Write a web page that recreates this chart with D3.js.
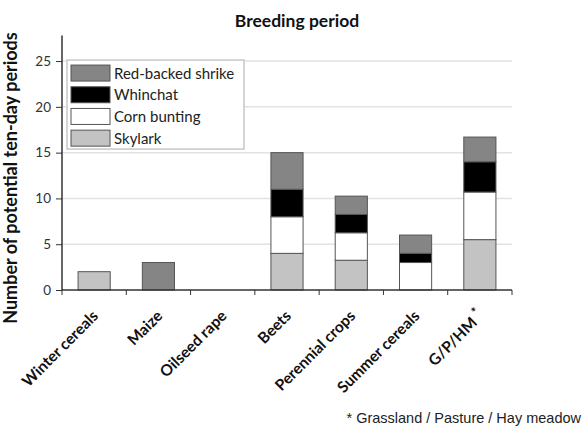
<!DOCTYPE html>
<html>
<head>
<meta charset="utf-8">
<script src="https://cdn.jsdelivr.net/npm/d3@7"></script>
<style>
  body { margin: 0; background: #fff; }
  text { font-family: Lato, "Open Sans", sans-serif; }
</style>
</head>
<body>
<svg id="chart" width="583" height="427"></svg>
<script>
// values (ten-day periods)
const categories = ['Winter cereals', 'Maize', 'Oilseed rape', 'Beets', 'Perennial crops', 'Summer cereals', 'G/P/HM'];
const skylark = [2, 0, 0, 4, 3.25, 0, 5.5];
const cornBunting = [0, 0, 0, 4, 3, 3, 5.2];
const whinchat = [0, 0, 0, 3, 2, 1, 3.3];
const shrike = [0, 3, 0, 4, 2, 2, 2.7];
const yTicks = [0, 5, 10, 15, 20, 25];

const series = [
  { key: 'Skylark', values: skylark, fill: '#c3c3c3' },
  { key: 'Corn bunting', values: cornBunting, fill: '#ffffff' },
  { key: 'Whinchat', values: whinchat, fill: '#000000' },
  { key: 'Red-backed shrike', values: shrike, fill: '#858585' }
];

const rows = categories.map((c, i) => {
  const r = { cat: c };
  series.forEach(s => { r[s.key] = s.values[i]; });
  return r;
});

const svg = d3.select('#chart');
const margin = { left: 62, right: 71, top: 29, bottom: 137 };
const width = 583 - margin.left - margin.right;
const height = 427 - margin.top - margin.bottom;

const x = d3.scaleBand().domain(categories).range([0, width]).paddingInner(0.5).paddingOuter(0.25);
const y = d3.scaleLinear().domain([0, 28.5]).range([height, 0]);

const g = svg.append('g').attr('transform', `translate(${margin.left},${margin.top})`);

// gridlines
g.selectAll('.grid')
  .data(yTicks.filter(d => d > 0))
  .join('line')
  .attr('x1', 0).attr('x2', width)
  .attr('y1', d => y(d)).attr('y2', d => y(d))
  .attr('stroke', '#e2e2e2')
  .attr('stroke-width', 1.5);

// stacked bars
const stack = d3.stack().keys(series.map(s => s.key));
const layers = stack(rows);
const fills = Object.fromEntries(series.map(s => [s.key, s.fill]));

g.selectAll('.layer')
  .data(layers)
  .join('g')
  .attr('fill', d => fills[d.key])
  .selectAll('rect')
  .data(d => d.filter(p => p[1] - p[0] > 0))
  .join('rect')
  .attr('x', d => x(d.data.cat))
  .attr('width', x.bandwidth())
  .attr('y', d => y(d[1]))
  .attr('height', d => y(d[0]) - y(d[1]))
  .attr('stroke', '#555')
  .attr('stroke-width', 1);

// y axis
const yAxis = g.append('g')
  .call(d3.axisLeft(y).tickValues(yTicks).tickSize(6).tickPadding(5).tickSizeOuter(0));
yAxis.select('.domain').attr('stroke', '#333').attr('stroke-width', 1.5).attr('d', `M0,${height}V${y(27.8)}`);
yAxis.selectAll('.tick line').attr('stroke', '#333');
yAxis.selectAll('.tick text').attr('font-size', 13.5).attr('fill', '#333')
  .style('font-family', 'Lato, sans-serif');

// x axis: ticks at band boundaries
const edges = d3.range(categories.length + 1).map(i => i * width / categories.length);
const xg = g.append('g').attr('transform', `translate(0,${height})`);
xg.append('line').attr('x1', 0).attr('x2', width).attr('stroke', '#333').attr('stroke-width', 1.5);
xg.selectAll('.xt').data(edges).join('line')
  .attr('x1', d => d).attr('x2', d => d).attr('y1', 0).attr('y2', 5)
  .attr('stroke', '#333');

const labels = xg.selectAll('.xl').data(categories).join('text')
  .attr('text-anchor', 'end')
  .attr('font-size', 15.5)
  .attr('font-weight', 'bold')
  .attr('fill', '#111')
  .attr('transform', d => `translate(${x(d) + x.bandwidth() / 2 + 5},${27}) rotate(-45)`)
  .text(d => d);
labels.filter(d => d === 'G/P/HM')
  .append('tspan').attr('dy', -6).attr('dx', 4).attr('font-size', 13).text('*');

// title
svg.append('text')
  .attr('x', 297).attr('y', 27)
  .attr('text-anchor', 'middle')
  .attr('font-size', 17.5).attr('font-weight', 'bold').attr('fill', '#111')
  .text('Breeding period');

// y label
svg.append('text')
  .attr('transform', 'translate(17,178) rotate(-90)')
  .attr('text-anchor', 'middle')
  .attr('font-size', 18).attr('font-weight', 'bold').attr('fill', '#111')
  .text('Number of potential ten-day periods');

// legend
const legend = g.append('g').attr('transform', 'translate(5,0)');
const legendItems = series.slice().reverse();
legend.append('rect')
  .attr('x', 0).attr('y', y(25) - 1)
  .attr('width', 177).attr('height', 89)
  .attr('fill', '#fff').attr('stroke', '#c8c8c8').attr('stroke-width', 1.5);
const li = legend.selectAll('.li').data(legendItems).join('g')
  .attr('transform', (d, i) => `translate(4,${y(25) + 4 + i * 21.7})`);
li.append('rect').attr('width', 39).attr('height', 16)
  .attr('fill', d => d.fill).attr('stroke', '#555');
li.append('text').attr('x', 43).attr('y', 13.5)
  .attr('font-size', 15).attr('fill', '#222')
  .text(d => d.key);

// footnote
svg.append('text')
  .attr('x', 581).attr('y', 423)
  .attr('text-anchor', 'end')
  .attr('font-size', 14.5).attr('fill', '#222')
  .style('font-family', '"Liberation Sans", Arial, sans-serif')
  .text('* Grassland / Pasture / Hay meadow');
</script>
</body>
</html>
